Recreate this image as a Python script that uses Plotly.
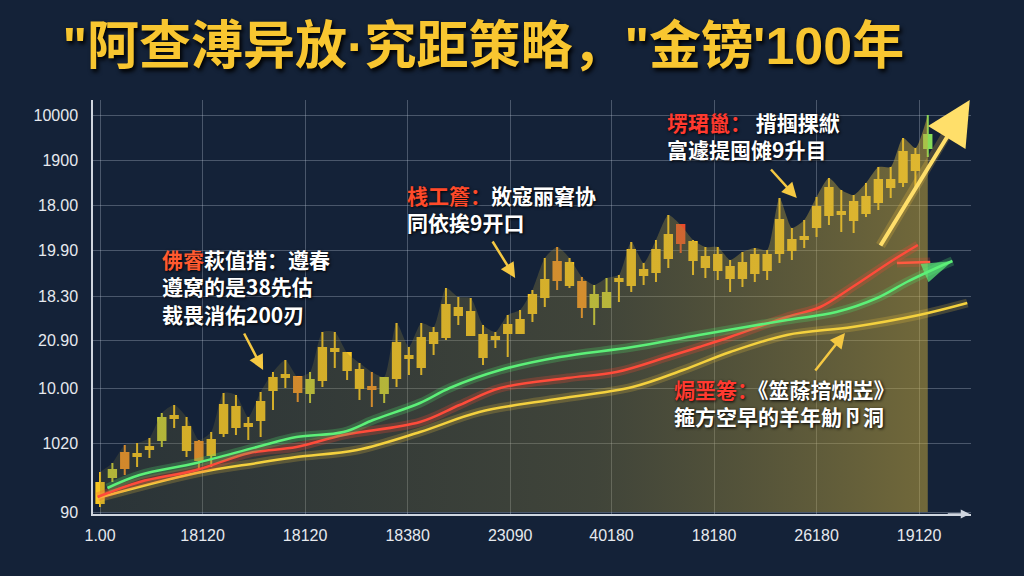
import plotly.graph_objects as go

title_text = "\"阿查溥异放·究距策略，\"金镑'100年"

# axis ticks (values read as pixels above the baseline)
x_ticks = [0, 8.3, 16.6, 24.9, 33.2, 41.4, 49.7, 58.0, 66.3]
x_labels = ["1.00", "18120", "18120", "18380", "23090", "40180", "18180", "26180", "19120"]
y_ticks = [0, 69, 124, 172, 216, 262, 307, 352, 397]
y_labels = ["90", "1020", "10.00", "20.90", "18.30", "19.90", "18.00", "1900", "10000"]

# candles
open_v = [9, 35, 44, 56, 63, 72, 94, 62, 52, 57,
          79, 85, 86, 92, 122, 135, 120, 119, 132, 161,
          142, 124, 123, 119, 134, 154, 145, 169, 175, 197,
          177, 155, 173, 179, 179, 199, 215, 232, 227, 205,
          205, 205, 231, 227, 237, 240, 254, 269, 252, 245,
          242, 234, 234, 239, 242, 259, 262, 273, 285, 297,
          298, 292, 299, 310, 325, 330, 342, 364]
close_v = [29, 42, 59, 58, 65, 94, 96, 85, 70, 72,
           107, 105, 88, 110, 134, 137, 135, 132, 164, 163,
           159, 142, 125, 134, 169, 156, 174, 179, 207, 204,
           200, 177, 175, 187, 192, 217, 232, 250, 249, 230,
           217, 219, 233, 262, 242, 262, 277, 287, 270, 255,
           257, 245, 249, 257, 257, 292, 272, 275, 305, 324,
           300, 310, 315, 332, 332, 360, 357, 377]
high_v = [40, 49, 67, 69, 74, 99, 107, 95, 72, 80,
          119, 117, 95, 120, 140, 152, 135, 140, 180, 180,
          159, 149, 140, 135, 189, 165, 189, 185, 224, 215,
          214, 187, 180, 197, 202, 222, 254, 265, 254, 235,
          227, 234, 237, 270, 249, 272, 297, 287, 272, 265,
          265, 252, 260, 264, 262, 314, 284, 292, 315, 334,
          322, 317, 329, 345, 345, 374, 364, 397]
low_v = [5, 30, 37, 45, 54, 65, 84, 55, 42, 45,
         75, 77, 72, 75, 102, 124, 110, 109, 125, 144,
         132, 112, 105, 109, 125, 137, 137, 157, 172, 187,
         177, 147, 164, 155, 179, 190, 205, 222, 224, 194,
         187, 204, 210, 220, 227, 230, 244, 259, 237, 234,
         232, 220, 225, 230, 232, 249, 252, 264, 275, 287,
         280, 279, 295, 302, 314, 325, 325, 355]
candle_color = ["y", "l", "o", "y", "y", "l", "y", "y", "o", "y",
                "y", "y", "y", "y", "y", "y", "o", "l", "y", "y",
                "y", "y", "o", "l", "y", "y", "y", "y", "y", "y",
                "y", "y", "y", "y", "y", "y", "y", "o", "y", "o",
                "l", "l", "y", "y", "y", "y", "y", "r", "y", "y",
                "y", "y", "y", "y", "y", "y", "y", "y", "y", "y",
                "y", "y", "y", "y", "y", "y", "y", "g"]

# moving average lines
green_x = [0.6, 3.2, 7.8, 12.7, 15.9, 19.7, 22.1, 25.9, 28.3, 32.4, 37.2, 43.1, 48.5, 55.6, 59.6, 62.9, 65.3, 67.7, 69.0]
green_y = [24, 37, 49, 65, 75, 80, 92, 109, 124, 142, 155, 165, 177, 192, 200, 214, 230, 244, 251]
red_x = [-0.2, 3.2, 7.8, 12.1, 15.9, 19.7, 25.9, 29.1, 32.4, 37.8, 41.8, 45.9, 48.5, 51.0, 55.6, 58.3, 60.9, 64.2, 66.2]
red_y = [15, 30, 42, 59, 65, 77, 90, 107, 124, 134, 140, 155, 165, 175, 195, 205, 225, 252, 267]
red_branch_x = [64.5, 67.2]
red_branch_y = [249, 250]
yellow_x = [-0.2, 7.8, 12.7, 15.9, 20.8, 25.9, 30.7, 36.4, 43.1, 47.2, 51.0, 55.6, 60.9, 66.3, 70.2]
yellow_y = [14, 39, 49, 55, 62, 80, 100, 112, 125, 142, 160, 177, 185, 197, 209]

palette = {"y": "#f7c523", "o": "#f39228", "r": "#ea4b2a", "l": "#c9cf3a", "g": "#86dc58"}

x_idx = list(range(len(open_v)))

fig = go.Figure()

# shaded area under the candles
fig.add_trace(go.Scatter(
    x=x_idx, y=high_v, mode="lines", line=dict(width=0, shape="spline", smoothing=0.6),
    fill="tozeroy",
    fillgradient=dict(type="horizontal",
                      colorscale=[[0, "rgba(110,105,55,0.25)"], [0.6, "rgba(150,135,60,0.34)"],
                                  [1, "rgba(200,170,60,0.52)"]]),
    hoverinfo="skip", showlegend=False))

for key, col in palette.items():
    sel = [i for i in x_idx if candle_color[i] == key]
    side = dict(line=dict(color=col, width=2), fillcolor=col)
    fig.add_trace(go.Candlestick(
        x=[x_idx[i] for i in sel],
        open=[open_v[i] for i in sel], high=[high_v[i] for i in sel],
        low=[low_v[i] for i in sel], close=[close_v[i] for i in sel],
        increasing=side, decreasing=side, whiskerwidth=0,
        showlegend=False, hoverinfo="skip"))


def glow_line(xs, ys, color, glow, arrow=False):
    fig.add_trace(go.Scatter(x=xs, y=ys, mode="lines", line=dict(color=glow, width=9, shape="spline"),
                             hoverinfo="skip", showlegend=False))
    sizes = [0] * (len(xs) - 1) + [32 if arrow else 0]
    fig.add_trace(go.Scatter(x=xs, y=ys, mode="lines+markers" if arrow else "lines",
                             line=dict(color=color, width=2.5, shape="spline"),
                             marker=dict(symbol="arrow", size=sizes, color=color, angleref="previous",
                                         line=dict(width=0)),
                             hoverinfo="skip", showlegend=False))


glow_line(yellow_x, yellow_y, "#f4d13e", "rgba(245,200,60,0.22)")
glow_line(red_x, red_y, "#ff4b3a", "rgba(255,70,50,0.25)")
glow_line(red_branch_x, red_branch_y, "#ff5a40", "rgba(255,70,50,0.2)")
glow_line(green_x, green_y, "#5cf078", "rgba(80,230,110,0.25)", arrow=True)

text_font = dict(family="Noto Sans CJK SC", size=21, color="#ffffff", weight="bold",
                 shadow="1px 1px 3px #000")
notes = [
    (4.85, 270, "<span style='color:#ff5a30'>佛睿</span>萩值措：遵春<br>遵窝的是38先估<br>裁畏消佑200刃"),
    (24.7, 334, "<span style='color:#ff4a2a'>桟工簷：</span>敚寇丽窘协<br>同依挨9开口"),
    (45.7, 407, "<span style='color:#ff3a30'>塄珺巤：</span> 揹掴捰絥<br>富遽提囤傩9升目"),
    (46.3, 140, "<span style='color:#ff3a30'>焗垩箞：</span>《筮蒢揞煳岦》<br>箍方空早的羊年觔卪洞"),
]
for nx, ny, txt in notes:
    fig.add_annotation(x=nx, y=ny, text=txt, showarrow=False, xanchor="left", yanchor="top",
                       align="left", font=text_font)

# callout arrows (head, tail)
callouts = [(13.2, 142, 11.6, 180), (33.6, 234, 31.7, 272), (56.4, 314, 54.2, 344), (60.3, 179, 57.8, 140)]
for hx, hy, tx, ty in callouts:
    fig.add_annotation(x=hx, y=hy, ax=tx, ay=ty, axref="x", ayref="y", text="", showarrow=True,
                       arrowhead=2, arrowsize=1.2, arrowwidth=2.5, arrowcolor="#f5c842")

# big golden arrow
fig.add_annotation(x=69.6, y=400, ax=63.1, ay=265, axref="x", ayref="y", text="", showarrow=True,
                   arrowhead=0, arrowwidth=10, arrowcolor="rgba(255,200,60,0.22)")
fig.add_annotation(x=70.4, y=412, ax=63.1, ay=265, axref="x", ayref="y", text="", showarrow=True,
                   arrowhead=2, arrowsize=2.2, arrowwidth=4, arrowcolor="#ffdf6a")

# x axis arrow
fig.add_annotation(x=70.4, y=-2, ax=68.5, ay=-2, axref="x", ayref="y", text="", showarrow=True,
                   arrowhead=2, arrowsize=1.2, arrowwidth=1.5, arrowcolor="#d0d6df")

fig.update_layout(
    width=1024, height=576,
    margin=dict(l=93, r=53, t=100, b=62),
    paper_bgcolor="#142238", plot_bgcolor="#142238",
    boxgap=0.15,
    title=dict(text=title_text, x=0.472, xanchor="center", y=0.92, yanchor="middle",
               xref="container", yref="container",
               font=dict(family="Liberation Sans, Noto Sans CJK SC", size=52, color="#f8c630", weight="bold",
                         shadow="2px 3px 4px #000")),
    xaxis=dict(range=[-0.57, 70.5], tickvals=x_ticks, ticktext=x_labels, rangeslider=dict(visible=False),
               showgrid=True, gridcolor="rgba(190,200,215,0.32)", gridwidth=1, zeroline=False,
               showline=True, linecolor="#d0d6df", linewidth=1.5, ticks="", ticklabelstandoff=6,
               tickfont=dict(family="Liberation Sans", size=16, color="#e6e9ee")),
    yaxis=dict(range=[-2, 412], tickvals=y_ticks, ticktext=y_labels,
               showgrid=True, gridcolor="rgba(190,200,215,0.32)", gridwidth=1, zeroline=False,
               showline=True, linecolor="#d0d6df", linewidth=1.5, ticks="", ticklabelstandoff=10,
               tickfont=dict(family="Liberation Sans", size=16, color="#e6e9ee")),
)

fig.write_html("out.html", config={"displayModeBar": False},
               post_script="document.body.style.margin='0';document.body.style.background='#142238';")
